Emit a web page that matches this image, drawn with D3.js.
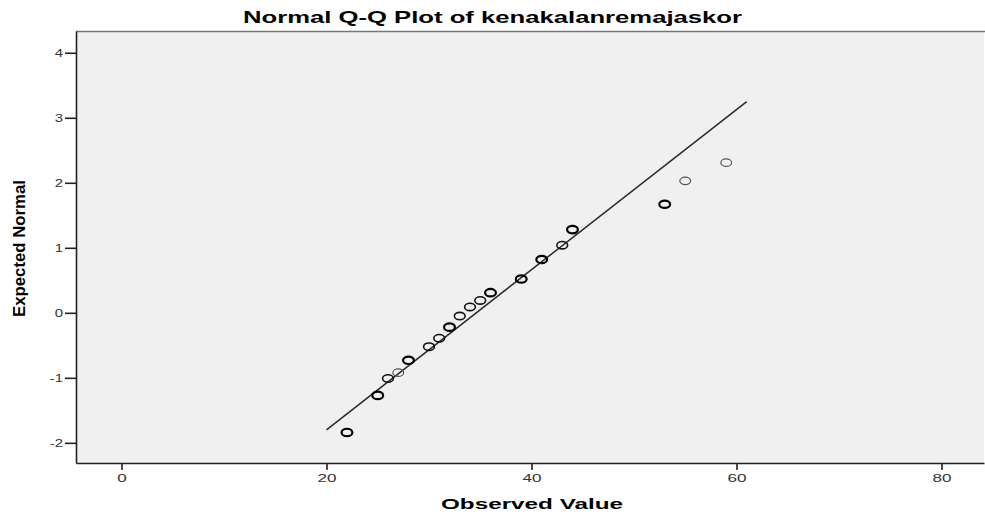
<!DOCTYPE html>
<html>
<head>
<meta charset="utf-8">
<script src="https://cdn.jsdelivr.net/npm/d3@7"></script>
<style>
  html, body { margin: 0; padding: 0; background: #ffffff; }
  svg { display: block; }
</style>
</head>
<body>
<svg id="chart" width="985" height="519"></svg>
<script>
// ---- data ----
const observed = [22, 25, 26, 27, 28, 30, 31, 32, 33, 34, 35, 36, 39, 41, 43, 44, 53, 55, 59];
const expected = [-1.84, -1.27, -1.01, -0.92, -0.73, -0.52, -0.39, -0.22, -0.05, 0.09, 0.19, 0.31, 0.52, 0.82, 1.04, 1.28, 1.67, 2.03, 2.31];
const freq     = [3, 3, 2, 1, 3, 2, 2, 3, 2, 2, 2, 3, 3, 3, 2, 3, 3, 1, 1];
const lineX = [20, 61];
const lineY = [-1.80, 3.25];
const xTicks = [0, 20, 40, 60, 80];
const yTicks = [-2, -1, 0, 1, 2, 3, 4];
const titleText = "Normal Q-Q Plot of kenakalanremajaskor";
const xLabel = "Observed Value";
const yLabel = "Expected Normal";

// ---- layout ----
const svg = d3.select("#chart");
const pL = 76, pR = 984, pT = 31, pB = 463;
const SX = 1.55; // horizontal stretch of the original rendering

const x = d3.scaleLinear().domain([-4.44, 84.15]).range([pL, pR]);
const y = d3.scaleLinear().domain([-2.31, 4.335]).range([pB, pT]);
const fmt = d => String(d);

// plot background
svg.append("rect")
  .attr("x", pL).attr("y", pT)
  .attr("width", pR - pL).attr("height", pB - pT)
  .attr("fill", "#f0f0f0");

// top border
svg.append("line")
  .attr("x1", pL).attr("x2", 985).attr("y1", pT + 0.5).attr("y2", pT + 0.5)
  .attr("stroke", "#777").attr("stroke-width", 1.5);

// x axis
const gx = svg.append("g").attr("transform", `translate(0,${pB})`)
  .call(d3.axisBottom(x).tickValues(xTicks).tickFormat(fmt).tickSize(7).tickSizeOuter(0));
gx.select(".domain").attr("stroke", "#222").attr("stroke-width", 1.6);
gx.selectAll(".tick line").attr("stroke", "#222").attr("stroke-width", 1.6);
gx.selectAll(".tick text")
  .attr("font-family", "Liberation Sans, Arial, sans-serif")
  .attr("font-size", 11)
  .attr("fill", "#333")
  .attr("dy", 0)
  .attr("y", 19)
  .attr("transform", `scale(${SX},1)`);

// y axis
const gy = svg.append("g").attr("transform", `translate(${pL},0)`)
  .call(d3.axisLeft(y).tickValues(yTicks).tickFormat(fmt).tickSize(11).tickSizeOuter(0));
gy.select(".domain").attr("stroke", "#222").attr("stroke-width", 1.6);
gy.selectAll(".tick line").attr("stroke", "#222").attr("stroke-width", 1.6);
gy.selectAll(".tick text")
  .attr("font-family", "Liberation Sans, Arial, sans-serif")
  .attr("font-size", 11.5)
  .attr("fill", "#333")
  .attr("dy", "0.36em")
  .attr("x", -13 / 1.3)
  .attr("transform", "scale(1.3,1)");

// reference line
svg.append("line")
  .attr("x1", x(lineX[0])).attr("y1", y(lineY[0]))
  .attr("x2", x(lineX[1])).attr("y2", y(lineY[1]))
  .attr("stroke", "#2a2a2a").attr("stroke-width", 1.5);

// points
const pts = observed.map((v, i) => ({ v, e: expected[i], f: freq[i] }));
svg.append("g").selectAll("ellipse").data(pts).enter().append("ellipse")
  .attr("cx", d => x(d.v))
  .attr("cy", d => y(d.e))
  .attr("rx", 5.4)
  .attr("ry", 3.7)
  .attr("fill", "none")
  .attr("stroke", d => d.f >= 3 ? "#000" : d.f === 2 ? "#111" : "#555")
  .attr("stroke-width", d => d.f >= 3 ? 2.2 : d.f === 2 ? 1.6 : 1.2);

// title
svg.append("text")
  .attr("x", 243).attr("y", 22.5)
  .attr("font-family", "Liberation Sans, Arial, sans-serif")
  .attr("font-weight", "bold")
  .attr("font-size", 16.5)
  .attr("fill", "#000")
  .attr("textLength", 499)
  .attr("lengthAdjust", "spacingAndGlyphs")
  .text(titleText);

// x label
svg.append("text")
  .attr("x", 441).attr("y", 509)
  .attr("font-family", "Liberation Sans, Arial, sans-serif")
  .attr("font-weight", "bold")
  .attr("font-size", 15.5)
  .attr("fill", "#000")
  .attr("textLength", 182)
  .attr("lengthAdjust", "spacingAndGlyphs")
  .text(xLabel);

// y label
svg.append("text")
  .attr("transform", "translate(25,317) rotate(-90)")
  .attr("x", 0).attr("y", 0)
  .attr("font-family", "Liberation Sans, Arial, sans-serif")
  .attr("font-weight", "bold")
  .attr("font-size", 17)
  .attr("fill", "#000")
  .attr("textLength", 137)
  .attr("lengthAdjust", "spacingAndGlyphs")
  .text(yLabel);
</script>
</body>
</html>
